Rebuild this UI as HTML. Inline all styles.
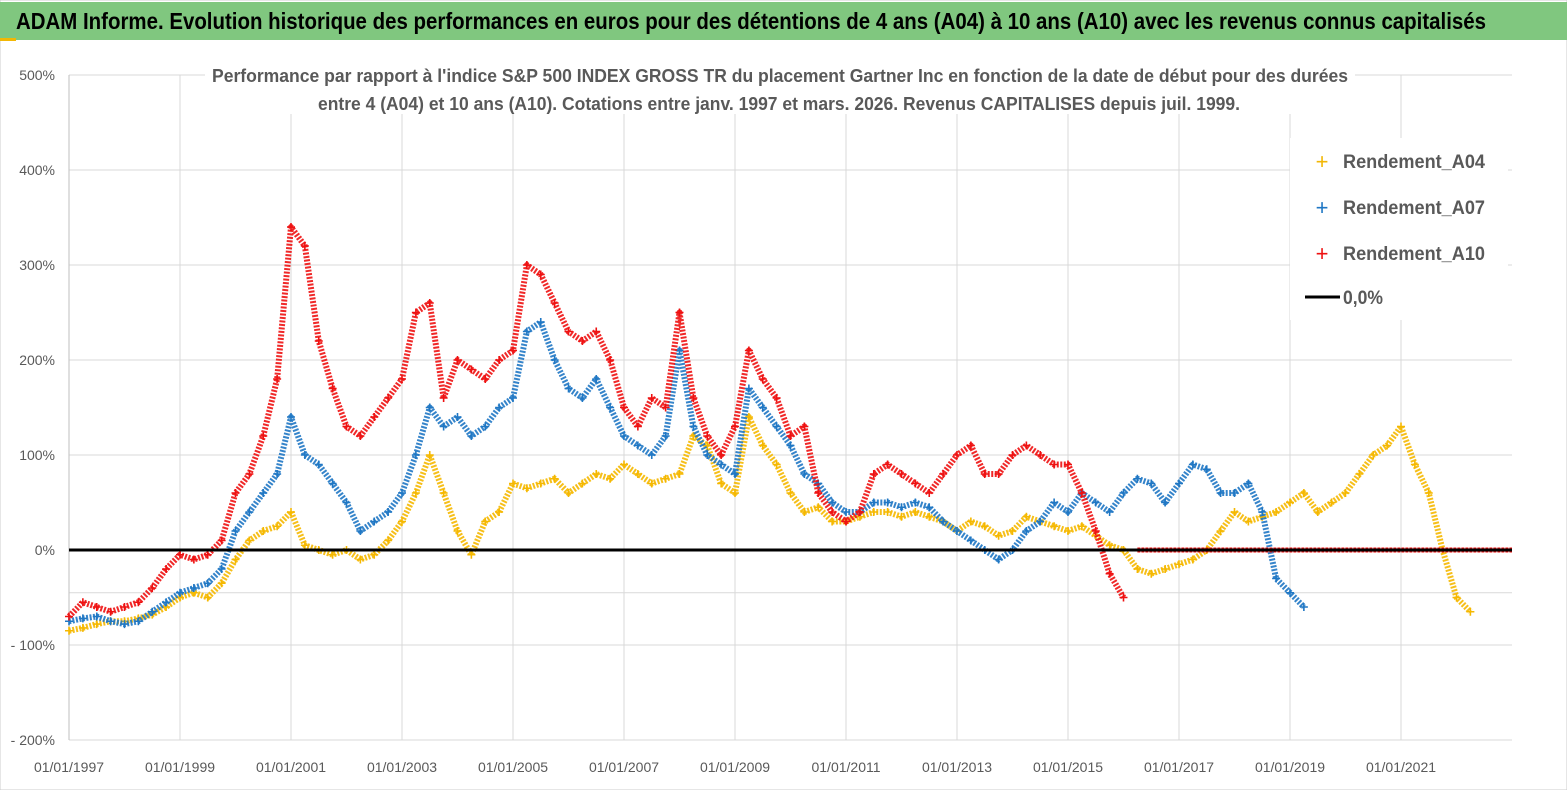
<!DOCTYPE html>
<html><head><meta charset="utf-8"><style>
html,body{margin:0;padding:0;background:#fff;}
svg{display:block;font-family:"Liberation Sans Narrow","Liberation Sans",sans-serif;}
</style></head><body>
<svg id="chart" width="1567" height="790" viewBox="0 0 1567 790">
<rect x="0" y="0" width="1567" height="790" fill="#fff" stroke="#ccc"/>
<rect x="0" y="2" width="1567" height="38" fill="#80c77f"/>
<rect x="0" y="38" width="16" height="3" fill="#f2b705"/>
<text x="16" y="29" font-size="23" font-weight="bold" fill="#000" textLength="1470" lengthAdjust="spacingAndGlyphs">ADAM Informe. Evolution historique des performances en euros pour des détentions de 4 ans (A04) à 10 ans (A10) avec les revenus connus capitalisés</text>
<g id="grid"></g>
<g id="ylabels"></g>
<g id="xlabels"></g>
<rect x="205" y="62" width="1150" height="52" fill="#fff"/>
<text x="212" y="82" font-size="18" font-weight="bold" fill="#595959" textLength="1136" lengthAdjust="spacingAndGlyphs">Performance par rapport à l'indice S&amp;P 500 INDEX GROSS TR  du placement Gartner Inc en fonction de la date de début pour des durées</text>
<text x="318" y="110" font-size="18" font-weight="bold" fill="#595959" textLength="922" lengthAdjust="spacingAndGlyphs">entre 4 (A04) et 10 ans (A10). Cotations entre janv. 1997 et mars. 2026. Revenus CAPITALISES depuis juil. 1999.</text>
<g id="series"></g>
<line id="zeroline" stroke="#000" stroke-width="3"/>
<g>
<rect x="1290" y="138" width="218" height="182" fill="#fff"/>
<g><text x="1322" y="169" font-size="22" fill="#f2b705" text-anchor="middle">+</text><text x="1343" y="168" font-size="19" font-weight="bold" fill="#595959" textLength="142" lengthAdjust="spacingAndGlyphs">Rendement_A04</text></g>
<g><text x="1322" y="215" font-size="22" fill="#1f77c4" text-anchor="middle">+</text><text x="1343" y="214" font-size="19" font-weight="bold" fill="#595959" textLength="142" lengthAdjust="spacingAndGlyphs">Rendement_A07</text></g>
<g><text x="1322" y="261" font-size="22" fill="#ee1111" text-anchor="middle">+</text><text x="1343" y="260" font-size="19" font-weight="bold" fill="#595959" textLength="142" lengthAdjust="spacingAndGlyphs">Rendement_A10</text></g>
<g><line x1="1305" y1="297" x2="1340" y2="297" stroke="#000" stroke-width="3"/><text x="1343" y="304" font-size="19" font-weight="bold" fill="#595959" textLength="40" lengthAdjust="spacingAndGlyphs">0,0%</text></g>
</g>
</svg>
<script>
const yTicks=[500,400,300,200,100,0,-100,-200];
const yTickLabels=["500%","400%","300%","200%","100%","0%","- 100%","- 200%"];
const xTickYears=[1997,1999,2001,2003,2005,2007,2009,2011,2013,2015,2017,2019,2021];
const xTickLabels=["01/01/1997","01/01/1999","01/01/2001","01/01/2003","01/01/2005","01/01/2007","01/01/2009","01/01/2011","01/01/2013","01/01/2015","01/01/2017","01/01/2019","01/01/2021"];
const a04=[-85,-82,-78,-75,-75,-72,-68,-60,-50,-45,-50,-35,-10,10,20,25,40,5,0,-5,0,-10,-5,10,30,60,100,60,20,-5,30,40,70,65,70,75,60,70,80,75,90,80,70,75,80,120,110,70,60,140,110,90,60,40,45,30,30,35,40,40,35,40,35,30,20,30,25,15,20,35,30,25,20,25,15,5,0,-20,-25,-20,-15,-10,0,20,40,30,35,40,50,60,40,50,60,80,100,110,130,90,60,0,-50,-65];
const a07=[-75,-72,-70,-75,-78,-75,-65,-55,-45,-40,-35,-20,20,40,60,80,140,100,90,70,50,20,30,40,60,100,150,130,140,120,130,150,160,230,240,200,170,160,180,150,120,110,100,120,210,130,100,90,80,170,150,130,110,80,70,50,40,40,50,50,45,50,45,30,20,10,0,-10,0,20,30,50,40,60,50,40,60,75,70,50,70,90,85,60,60,70,40,-30,-45,-60];
const a10=[-70,-55,-60,-65,-60,-55,-40,-20,-5,-10,-5,10,60,80,120,180,340,320,220,170,130,120,140,160,180,250,260,160,200,190,180,200,210,300,290,260,230,220,230,200,150,130,160,150,250,160,120,100,130,210,180,160,120,130,60,40,30,40,80,90,80,70,60,80,100,110,80,80,100,110,100,90,90,60,20,-25,-50];
const a10ZeroStart=2016.25, a10ZeroEnd=2023;
const startYear=1997, step=0.25;
const X0=69,PX_PER_YEAR=55.5,Y0=550,PX_PER_PCT=0.95;
const xs=y=>X0+(y-1997)*PX_PER_YEAR;
const ys=v=>Y0-v*PX_PER_PCT;
const NS="http://www.w3.org/2000/svg";
function mk(tag,attrs,parent){const e=document.createElementNS(NS,tag);for(const k in attrs)e.setAttribute(k,attrs[k]);parent.appendChild(e);return e;}
const grid=document.getElementById('grid'),yl=document.getElementById('ylabels'),xl=document.getElementById('xlabels'),ser=document.getElementById('series');
const xEnd=xs(2023);
yTicks.forEach((t,i)=>{
  const l=mk('line',{x1:X0,x2:xEnd,y1:ys(t),y2:ys(t),stroke:'#d9d9d9','stroke-width':1},grid);
  
  
  const tx=mk('text',{x:55,y:ys(t)+5,'text-anchor':'end','font-size':14,fill:'#595959'},yl);
  tx.textContent=yTickLabels[i];
  
  
});
const ex=mk('line',{x1:X0,x2:xEnd,y1:ys(-45),y2:ys(-45),stroke:'#d9d9d9','stroke-width':1},grid);


xTickYears.forEach((yr,i)=>{
  const l=mk('line',{x1:xs(yr),x2:xs(yr),y1:ys(500),y2:ys(-200),stroke:'#d9d9d9','stroke-width':1},grid);
  
  
  const tx=mk('text',{x:xs(yr),y:772,'text-anchor':'middle','font-size':14,fill:'#595959'},xl);
  tx.textContent=xTickLabels[i];
  
  
});
const axl=mk('line',{x1:X0,x2:X0,y1:ys(500),y2:ys(-200),stroke:'#bfbfbf','stroke-width':1},grid);


function drawSeries(arr,color,name){
  const g=mk('g',{},ser);
  
  
  const pts=arr.map((v,i)=>xs(startYear+i*step)+','+ys(v)).join(' ');
  const pl=mk('polyline',{points:pts,fill:'none',stroke:color,'stroke-width':6,'stroke-linejoin':'round','stroke-dasharray':'2 1.5',opacity:0.9},g);
  
  
  arr.forEach((v,i)=>{
    const x=xs(startYear+i*step),y=ys(v);
    const p=mk('path',{d:`M${x-4},${y}h8M${x},${y-4}v8`,stroke:color,'stroke-width':1.6},g);
    
    
  });
}
drawSeries(a04,'#f5b800','series-a04');
drawSeries(a07,'#1f77c4','series-a07');
drawSeries(a10,'#ee1111','series-a10');
const z=document.getElementById('zeroline');
z.setAttribute('x1',X0);z.setAttribute('x2',xEnd);z.setAttribute('y1',ys(0));z.setAttribute('y2',ys(0));
const zr=mk('line',{x1:xs(a10ZeroStart),x2:xs(a10ZeroEnd),y1:ys(0),y2:ys(0),stroke:'#ee1111','stroke-width':5,'stroke-dasharray':'3 1'},ser);


</script>
</body></html>
